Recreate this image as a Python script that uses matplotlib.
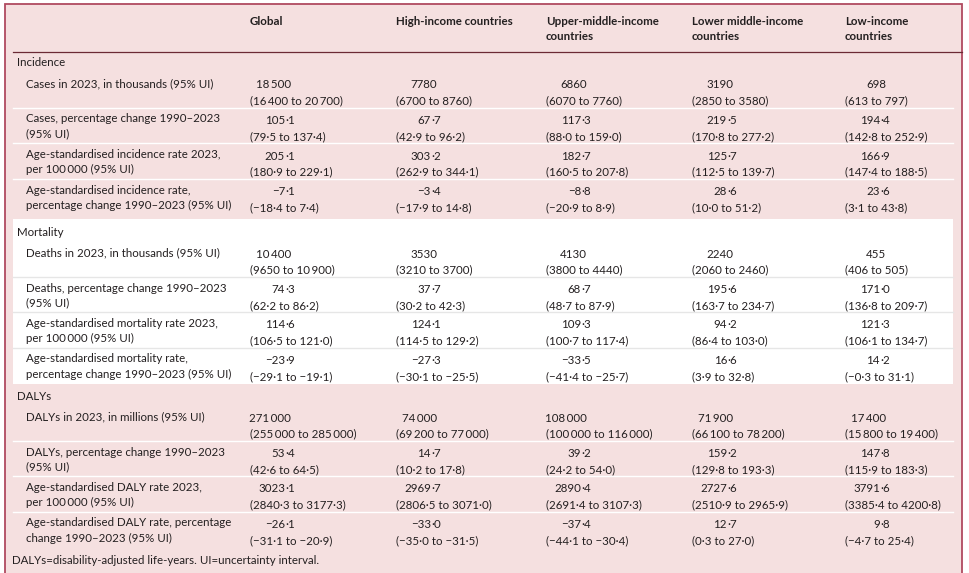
import matplotlib
matplotlib.use("Agg")
import matplotlib.pyplot as plt

columns = ["Global", "High-income countries", "Upper-middle-income\ncountries",
           "Lower middle-income\ncountries", "Low-income\ncountries"]
sections = ["Incidence", "Mortality", "DALYs"]
row_labels = [
    ["Cases in 2023, in thousands (95% UI)",
     "Cases, percentage change 1990\u20132023\n(95% UI)",
     "Age-standardised incidence rate 2023,\nper 100\u2009000 (95% UI)",
     "Age-standardised incidence rate,\npercentage change 1990\u20132023 (95% UI)"],
    ["Deaths in 2023, in thousands (95% UI)",
     "Deaths, percentage change 1990\u20132023\n(95% UI)",
     "Age-standardised mortality rate 2023,\nper 100\u2009000 (95% UI)",
     "Age-standardised mortality rate,\npercentage change 1990\u20132023 (95% UI)"],
    ["DALYs in 2023, in millions (95% UI)",
     "DALYs, percentage change 1990\u20132023\n(95% UI)",
     "Age-standardised DALY rate 2023,\nper 100\u2009000 (95% UI)",
     "Age-standardised DALY rate, percentage\nchange 1990\u20132023 (95% UI)"],
]
values = [
    [["18\u2009500", "7780", "6860", "3190", "698"],
     ["105·1", "67·7", "117·3", "219·5", "194·4"],
     ["205·1", "303·2", "182·7", "125·7", "166·9"],
     ["\u22127·1", "\u22123·4", "\u22128·8", "28·6", "23·6"]],
    [["10\u2009400", "3530", "4130", "2240", "455"],
     ["74·3", "37·7", "68·7", "195·6", "171·0"],
     ["114·6", "124·1", "109·3", "94·2", "121·3"],
     ["\u221223·9", "\u221227·3", "\u221233·5", "16·6", "14·2"]],
    [["271\u2009000", "74\u2009000", "108\u2009000", "71\u2009900", "17\u2009400"],
     ["53·4", "14·7", "39·2", "159·2", "147·8"],
     ["3023·1", "2969·7", "2890·4", "2727·6", "3791·6"],
     ["\u221226·1", "\u221233·0", "\u221237·4", "12·7", "9·8"]],
]
intervals = [
    [["(16\u2009400 to 20\u2009700)", "(6700 to 8760)", "(6070 to 7760)", "(2850 to 3580)", "(613 to 797)"],
     ["(79·5 to 137·4)", "(42·9 to 96·2)", "(88·0 to 159·0)", "(170·8 to 277·2)", "(142·8 to 252·9)"],
     ["(180·9 to 229·1)", "(262·9 to 344·1)", "(160·5 to 207·8)", "(112·5 to 139·7)", "(147·4 to 188·5)"],
     ["(\u221218·4 to 7·4)", "(\u221217·9 to 14·8)", "(\u221220·9 to 8·9)", "(10·0 to 51·2)", "(3·1 to 43·8)"]],
    [["(9650 to 10\u2009900)", "(3210 to 3700)", "(3800 to 4440)", "(2060 to 2460)", "(406 to 505)"],
     ["(62·2 to 86·2)", "(30·2 to 42·3)", "(48·7 to 87·9)", "(163·7 to 234·7)", "(136·8 to 209·7)"],
     ["(106·5 to 121·0)", "(114·5 to 129·2)", "(100·7 to 117·4)", "(86·4 to 103·0)", "(106·1 to 134·7)"],
     ["(\u221229·1 to \u221219·1)", "(\u221230·1 to \u221225·5)", "(\u221241·4 to \u221225·7)", "(3·9 to 32·8)", "(\u22120·3 to 31·1)"]],
    [["(255\u2009000 to 285\u2009000)", "(69\u2009200 to 77\u2009000)", "(100\u2009000 to 116\u2009000)", "(66\u2009100 to 78\u2009200)", "(15\u2009800 to 19\u2009400)"],
     ["(42·6 to 64·5)", "(10·2 to 17·8)", "(24·2 to 54·0)", "(129·8 to 193·3)", "(115·9 to 183·3)"],
     ["(2840·3 to 3177·3)", "(2806·5 to 3071·0)", "(2691·4 to 3107·3)", "(2510·9 to 2965·9)", "(3385·4 to 4200·8)"],
     ["(\u221231·1 to \u221220·9)", "(\u221235·0 to \u221231·5)", "(\u221244·1 to \u221230·4)", "(0·3 to 27·0)", "(\u22124·7 to 25·4)"]],
]
footnote = "DALYs=disability-adjusted life-years. UI=uncertainty interval."

PINK = "#f5e0e0"
BORDER = "#b04a60"
TXT = "#231f20"
FONT = ["Lato", "DejaVu Sans"]
FS = 8.3

fig = plt.figure(figsize=(9.7, 5.73), dpi=100)
ax = fig.add_axes([0, 0, 1, 1])
ax.set_xlim(0, 970)
ax.set_ylim(573, 0)
ax.axis("off")

ax.add_patch(plt.Rectangle((5, 4), 957, 575, facecolor=PINK, edgecolor=BORDER, lw=1.3))
ax.add_patch(plt.Rectangle((13, 219), 940, 165, facecolor="white", edgecolor="none"))
ax.plot([13, 962], [52, 52], color="#6b2a35", lw=0.9)

col_x = [250, 396, 546, 692, 845]
for x, c in zip(col_x, columns):
    ax.text(x, 16, c, fontsize=FS, fontweight="bold", family=FONT, color=TXT,
            va="top", ha="left", linespacing=1.45)

def T(x, y, s, **kw):
    ax.text(x, y, s, fontsize=FS, family=FONT, color=TXT, va="center", linespacing=1.45, **kw)

sec_top = [56, 225, 389]
for si, sec in enumerate(sections):
    T(17, sec_top[si] + 7, sec)
    for ri in range(4):
        top = sec_top[si] + 21 + ri * 35.5
        if ri > 0:
            lc = "white" if si != 1 else "#e6e6e6"
            ax.plot([13, 953], [top - 5, top - 5], color=lc, lw=1.0)
        ax.text(26, top + 1, row_labels[si][ri], fontsize=FS, family=FONT, color=TXT,
                va="top", linespacing=1.45)
        for ci, x in enumerate(col_x):
            v = values[si][ri][ci]
            anchor = x + 35
            if "·" in v:
                ip, fp = v.split("·")
                T(anchor, top + 8, ip, ha="right")
                T(anchor, top + 8, "·" + fp, ha="left")
            else:
                T(anchor + 6, top + 8, v, ha="right")
            T(x, top + 24, intervals[si][ri][ci], ha="left")

T(12, 561, footnote)
fig.savefig("out.png", dpi=100, facecolor="white")
